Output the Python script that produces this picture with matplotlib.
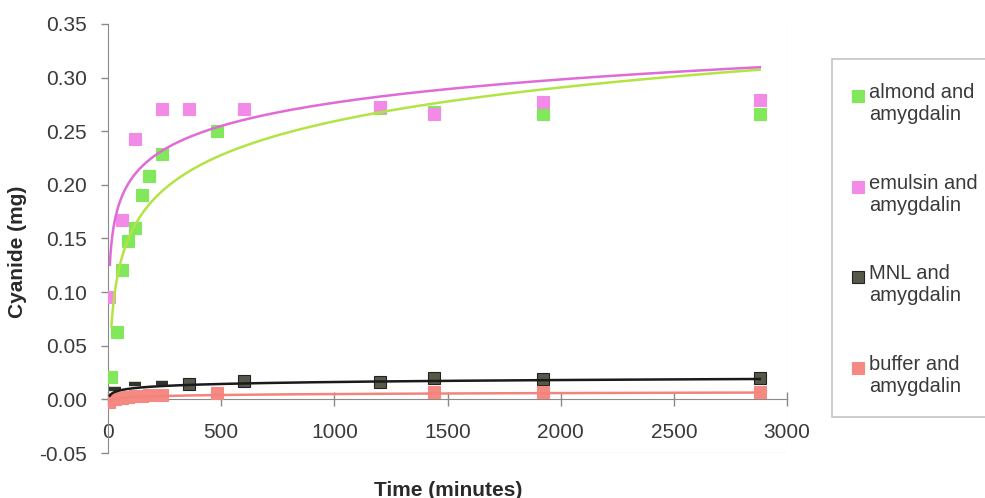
import numpy as np
import matplotlib
matplotlib.use("Agg")
import matplotlib.pyplot as plt
from matplotlib.lines import Line2D
from matplotlib.patches import Rectangle

plt.rcParams["font.family"] = ["Liberation Sans", "DejaVu Sans"]

# Cyanide released (mg) against time (minutes)
almond_t = [15, 40, 60, 90, 120, 150, 180, 240, 480, 1200, 1440, 1920, 2880]
almond_v = [0.021, 0.063, 0.121, 0.148, 0.160, 0.191, 0.208, 0.229, 0.250,
            0.272, 0.268, 0.266, 0.266]

emulsin_t = [3, 60, 120, 240, 360, 600, 1200, 1440, 1920, 2880]
emulsin_v = [0.095, 0.167, 0.243, 0.271, 0.271, 0.271, 0.273, 0.266, 0.277, 0.279]

mnl_t = [30, 120, 240, 360, 600, 1200, 1440, 1920, 2880]
mnl_v = [0.010, 0.014, 0.015, 0.014, 0.017, 0.016, 0.020, 0.019, 0.020]

buffer_t = [5, 30, 60, 90, 120, 150, 180, 240, 480, 1440, 1920, 2880]
buffer_v = [-0.002, 0.000, 0.001, 0.002, 0.003, 0.003, 0.004, 0.004, 0.0055,
            0.007, 0.0065, 0.0065]

# logarithmic trendlines  y = a*ln(t) + b, drawn from t_start to t_end
trend_a = [0.0455, 0.0313, 0.00265, 0.0013]
trend_b = [-0.055, 0.0604, -0.0021, -0.004]
trend_start = [15, 8, 8, 5]
trend_end = [2880, 2880, 2880, 2880]

labels = ["almond and\namygdalin", "emulsin and\namygdalin",
          "MNL and\namygdalin", "buffer and\namygdalin"]

x_ticks = [0, 500, 1000, 1500, 2000, 2500, 3000]
y_ticks = [-0.05, 0.00, 0.05, 0.10, 0.15, 0.20, 0.25, 0.30, 0.35]

marker_face = ["#80e85a", "#f28ae8", "#58584a", "#f58a82"]
marker_edge = ["#80e85a", "#f28ae8", "#222222", "#f58a82"]
trend_color = ["#b2e444", "#e06ad6", "#1a1a1a", "#f2847c"]

series = [(almond_t, almond_v), (emulsin_t, emulsin_v),
          (mnl_t, mnl_v), (buffer_t, buffer_v)]

W, H = 985, 498
fig = plt.figure(figsize=(W / 100, H / 100), dpi=100)
ax = fig.add_axes([108 / W, 1 - 453 / H, (787 - 108) / W, (453 - 24) / H])

text_col = "#3a3a3a"
axis_col = "#8a8a8a"

for i, (t, v) in enumerate(series):
    t = np.asarray(t, float)
    v = np.asarray(v, float)
    if i == 2:
        # the three earliest MNL readings are shown as short bars
        ax.plot(t[:3], v[:3], linestyle="none", marker="_", markersize=9,
                markeredgewidth=3.2, color="#33332a", zorder=3)
        ax.plot(t[3:], v[3:], linestyle="none", marker="s", markersize=8.5,
                markerfacecolor=marker_face[i], markeredgecolor=marker_edge[i],
                markeredgewidth=0.8, zorder=3)
    else:
        ax.plot(t, v, linestyle="none", marker="s", markersize=8.5,
                markerfacecolor=marker_face[i], markeredgecolor=marker_edge[i],
                markeredgewidth=0.8, zorder=3)
    tt = np.geomspace(trend_start[i], trend_end[i], 400)
    ax.plot(tt, trend_a[i] * np.log(tt) + trend_b[i], color=trend_color[i],
            lw=1.8, zorder=4)

ax.set_xlim(0, 3000)
ax.set_ylim(-0.05, 0.35)
ax.set_xticks(x_ticks)
ax.set_yticks(y_ticks)
ax.set_xticklabels([str(x) for x in x_ticks])
ax.set_yticklabels([f"{y:.2f}" for y in y_ticks])

for s in ["top", "right"]:
    ax.spines[s].set_visible(False)
ax.spines["left"].set_color(axis_col)
ax.spines["left"].set_position(("data", 0))
ax.spines["bottom"].set_color(axis_col)
ax.spines["bottom"].set_position(("data", 0))
ax.tick_params(axis="x", direction="inout", length=10, width=1, color=axis_col,
               pad=12, labelsize=15, labelcolor=text_col)
ax.tick_params(axis="y", direction="out", length=5, width=1, color=axis_col,
               pad=10, labelsize=15, labelcolor=text_col)
# faint plot-area border
ax.axhline(-0.05, color="#e6e6e6", lw=1, zorder=0)
ax.axvline(3000, color="#f0f0f0", lw=1, zorder=0)

fig.text(448 / W, 1 - 490 / H, "Time (minutes)", ha="center", va="center",
         fontsize=15, fontweight="bold", color="#2a2a2a")
fig.text(18 / W, 1 - 252 / H, "Cyanide (mg)", ha="center", va="center",
         rotation=90, fontsize=15, fontweight="bold", color="#2a2a2a")

# legend box
fig.patches.append(Rectangle((832 / W, 1 - 417 / H), (995 - 832) / W,
                             (417 - 59) / H, transform=fig.transFigure,
                             facecolor="white", edgecolor="#c4c4c4", lw=1.2))
for i, lab in enumerate(labels):
    y0 = 94 + i * 90.7
    fig.add_artist(Line2D([858 / W], [1 - (y0 + 2) / H], transform=fig.transFigure,
                          marker="s", markersize=8.5, linestyle="none",
                          markerfacecolor=marker_face[i],
                          markeredgecolor=marker_edge[i], markeredgewidth=0.8))
    fig.text(869 / W, 1 - (y0 - 11) / H, lab, ha="left", va="top",
             fontsize=14.5, color=text_col, linespacing=1.2)

fig.savefig("out.png", dpi=100)
